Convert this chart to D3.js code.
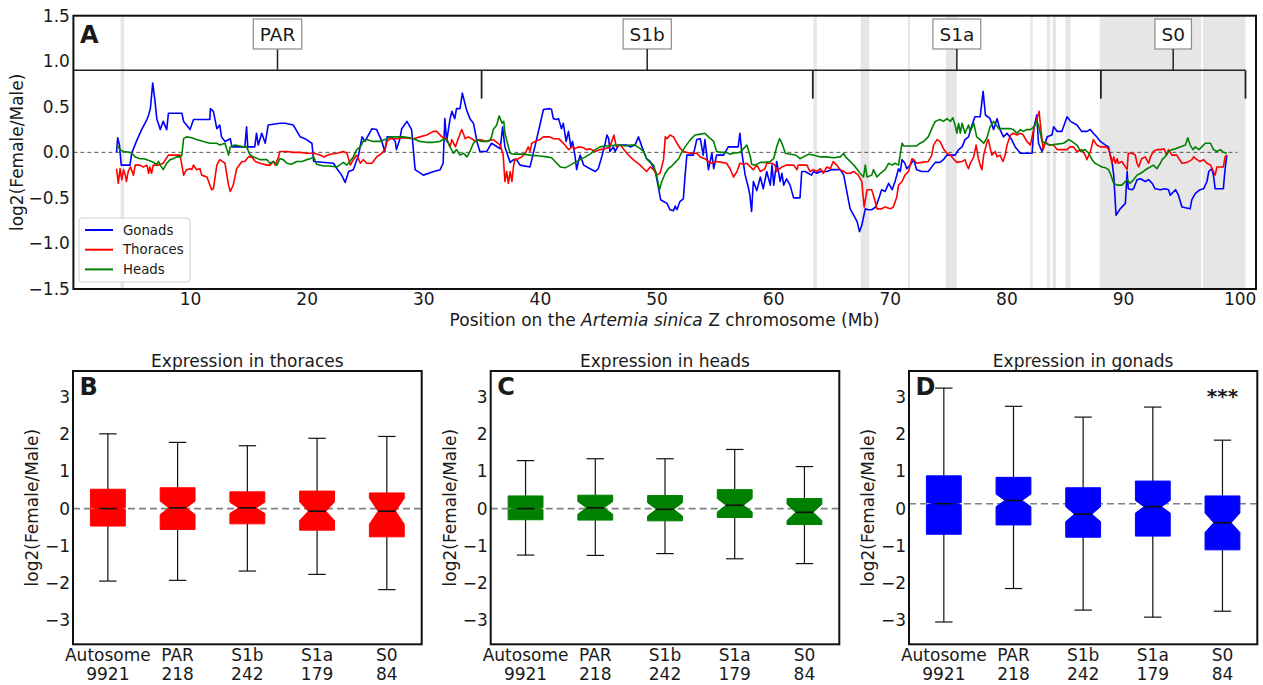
<!DOCTYPE html>
<html>
<head>
<meta charset="utf-8">
<script src="https://cdn.jsdelivr.net/npm/d3@7"></script>
<style>
  body { margin: 0; background: #fff; }
  text { font-family: "DejaVu Sans", sans-serif; fill: #1a1a1a; }
</style>
</head>
<body>
<svg id="chart" width="1263" height="685"></svg>
<script>
// ---------- Panel A data: sliding-window log2(F/M) along the Z chromosome ----------
// [position (Mb), log2 ratio]
const gonads = [
  [3.7,0.0],[3.8,0.16],[3.95,0.08],[4.1,-0.14],[4.85,-0.14],[5.0,-0.01],[5.4,0.12],[5.85,0.25],[6.3,0.36],[6.45,0.41],
  [6.6,0.48],[6.8,0.76],[7.0,0.56],[7.15,0.37],[7.45,0.25],[7.7,0.34],[8.0,0.25],[8.15,0.43],[9.3,0.43],[9.45,0.34],
  [9.7,0.3],[10.0,0.25],[10.3,0.36],[11.7,0.36],[11.75,0.48],[12.0,0.45],[12.3,0.26],[12.55,0.3],[12.7,0.17],[13.0,0.12],
  [13.45,0.15],[13.6,0.06],[14.7,0.06],[14.85,0.28],[14.95,0.06],[15.55,0.06],[15.7,0.21],[15.85,0.08],[16.15,0.21],[16.45,0.1],
  [16.7,0.3],[17.7,0.32],[18.15,0.32],[18.85,0.3],[19.45,0.17],[19.85,0.15],[20.45,0.1],[20.6,-0.1],[22.3,-0.12],[22.6,-0.18],
  [23.0,-0.25],[23.3,-0.33],[23.6,-0.21],[24.0,-0.19],[24.45,-0.03],[24.75,0.17],[25.0,0.12],[25.6,0.26],[26.0,0.25],[26.45,0.12],
  [26.7,0.01],[26.9,0.17],[27.3,0.17],[27.6,0.12],[27.7,0.03],[28.0,0.15],[28.15,0.26],[28.6,0.34],[29.0,0.25],[29.3,-0.19],
  [30.0,-0.25],[30.9,-0.21],[31.45,-0.19],[31.7,-0.12],[31.85,0.37],[32.0,0.12],[32.3,0.37],[32.45,0.45],[32.7,0.37],[32.85,0.48],
  [33.15,0.48],[33.35,0.65],[33.7,0.47],[34.0,0.37],[34.3,0.32],[34.6,0.12],[34.85,0.01],[35.45,0.01],[35.85,0.1],[36.6,0.04],
  [36.8,0.28],[37.0,0.06],[37.45,-0.11],[37.75,-0.08],[38.0,-0.08],[38.3,-0.14],[39.15,-0.16],[39.6,0.08],[40.0,0.3],[40.3,0.47],
  [40.85,0.48],[41.0,0.47],[41.15,0.37],[41.45,0.36],[41.6,0.37],[41.85,0.26],[42.0,0.32],[42.25,0.12],[42.45,0.23],[42.65,0.06],
  [42.8,0.12],[43.0,-0.03],[43.15,-0.19],[43.3,-0.1],[43.45,-0.03],[43.75,-0.14],[44.3,-0.18],[44.75,-0.21],[45.0,-0.18],[45.3,-0.05],
  [45.6,0.1],[45.75,0.19],[45.9,0.15],[46.0,0.01],[46.3,0.06],[46.45,0.01],[46.75,0.08],[47.45,0.08],[47.75,0.06],[48.15,0.08],
  [48.45,0.17],[48.75,0.06],[49.15,-0.07],[49.45,-0.1],[49.9,-0.21],[50.15,-0.38],[50.35,-0.52],[50.6,-0.54],[50.9,-0.56],[51.15,-0.63],
  [51.45,-0.64],[51.6,-0.59],[51.75,-0.63],[52.0,-0.54],[52.3,-0.51],[52.45,-0.25],[52.6,-0.03],[53.15,-0.03],[53.45,0.14],[53.75,0.15],
  [54.0,-0.03],[54.15,0.14],[54.45,-0.19],[54.75,-0.01],[54.9,-0.18],[55.15,-0.03],[55.75,-0.03],[56.15,0.06],[57.0,0.06],[57.15,0.21],
  [57.3,0.01],[57.6,-0.25],[57.9,-0.4],[58.0,-0.47],[58.15,-0.65],[58.3,-0.32],[58.6,-0.42],[58.9,-0.27],[59.15,-0.4],[59.45,-0.21],
  [59.75,-0.36],[59.9,-0.14],[60.05,-0.36],[60.3,-0.1],[60.6,-0.32],[60.75,-0.23],[60.9,-0.36],[61.15,-0.29],[61.45,-0.36],[61.75,-0.5],
  [62.3,-0.5],[62.45,-0.21],[62.75,-0.21],[63.0,-0.23],[63.3,-0.25],[63.45,-0.21],[63.75,-0.23],[64.05,-0.21],[64.6,-0.21],[65.0,-0.19],
  [65.75,-0.19],[66.05,-0.25],[66.3,-0.42],[66.6,-0.62],[66.9,-0.69],[67.2,-0.76],[67.4,-0.87],[67.6,-0.8],[67.9,-0.62],[68.15,-0.63],
  [68.45,-0.63],[68.8,-0.6],[69.05,-0.51],[69.3,-0.41],[69.6,-0.43],[69.9,-0.34],[70.2,-0.41],[70.45,-0.32],[70.75,-0.18],[70.9,-0.21],
  [71.05,-0.08],[71.3,-0.12],[71.45,-0.18],[71.75,-0.14],[72.05,-0.08],[72.3,-0.19],[72.75,-0.21],[73.3,-0.21],[73.9,-0.11],[74.3,-0.11],
  [74.6,-0.08],[74.9,-0.03],[75.6,-0.03],[75.9,0.03],[76.2,0.06],[76.45,0.14],[76.75,0.17],[77.05,0.3],[77.3,0.39],[77.75,0.39],
  [78.0,0.67],[78.2,0.41],[78.6,0.37],[78.9,0.25],[79.2,0.37],[79.45,0.25],[79.75,0.17],[80.05,0.21],[80.45,0.14],[80.75,0.06],
  [81.2,-0.01],[81.75,-0.01],[82.2,-0.01],[82.35,0.26],[82.6,0.41],[82.75,0.1],[83.05,0.01],[83.5,0.17],[83.9,0.19],[84.05,0.28],
  [84.35,0.23],[84.75,0.23],[85.2,0.39],[85.5,0.34],[86.05,0.3],[86.45,0.23],[86.9,0.23],[87.2,0.25],[87.45,0.21],[87.75,0.17],
  [88.05,0.12],[88.5,0.08],[88.75,0.06],[88.9,-0.03],[89.05,-0.1],[89.2,-0.25],[89.4,-0.69],[89.75,-0.62],[90.2,-0.56],[90.35,-0.21],
  [90.45,-0.4],[90.75,-0.41],[90.9,-0.4],[91.2,-0.3],[91.5,-0.29],[91.9,-0.32],[92.2,-0.3],[92.5,-0.34],[92.75,-0.4],[93.2,-0.41],
  [93.6,-0.4],[93.9,-0.41],[94.05,-0.47],[94.5,-0.41],[94.75,-0.47],[95.05,-0.6],[95.75,-0.62],[95.9,-0.52],[96.2,-0.45],[96.6,-0.41],
  [96.9,-0.4],[97.2,-0.32],[97.35,-0.21],[97.6,-0.18],[97.75,-0.25],[97.9,-0.4],[98.6,-0.4],[98.75,-0.18],[98.9,-0.03]
];

const thoraces = [
  [3.7,-0.18],[3.85,-0.34],[4.0,-0.18],[4.15,-0.3],[4.3,-0.19],[4.45,-0.25],[4.55,-0.32],[4.7,-0.21],[4.9,-0.16],[5.15,-0.25],
  [5.3,-0.14],[5.7,-0.14],[6.0,-0.16],[6.3,-0.14],[6.45,-0.23],[6.55,-0.16],[6.7,-0.23],[6.85,-0.14],[7.3,-0.14],[7.7,-0.12],
  [8.15,-0.03],[9.15,-0.03],[9.45,-0.25],[9.7,-0.19],[10.0,-0.18],[10.15,-0.19],[10.3,-0.14],[10.55,-0.19],[10.85,-0.18],[11.0,-0.25],
  [11.45,-0.27],[11.85,-0.41],[12.0,-0.4],[12.3,-0.14],[12.55,-0.08],[13.0,-0.12],[13.3,-0.36],[13.45,-0.43],[13.7,-0.36],[14.0,-0.18],
  [14.45,-0.1],[14.7,-0.1],[15.0,-0.05],[15.3,-0.05],[15.6,-0.1],[16.0,-0.12],[16.6,-0.14],[16.85,-0.14],[17.15,-0.1],[17.3,-0.14],
  [17.6,-0.05],[17.7,0.01],[18.3,0.01],[18.85,0.0],[19.45,0.0],[20.0,-0.01],[20.6,-0.01],[21.15,-0.03],[21.45,-0.05],[22.0,-0.02],
  [22.6,-0.01],[23.15,0.01],[23.45,-0.01],[23.75,-0.14],[24.0,-0.08],[24.3,-0.03],[24.6,-0.12],[24.85,-0.08],[25.15,-0.12],[25.6,-0.12],
  [26.0,-0.05],[26.45,-0.01],[26.7,0.03],[26.9,0.12],[27.15,0.15],[27.75,0.15],[28.3,0.16],[29.15,0.15],[29.7,0.17],[30.3,0.19],
  [30.85,0.23],[31.15,0.23],[31.6,0.17],[32.0,0.15],[32.3,0.06],[32.45,0.14],[32.75,0.06],[33.0,0.15],[33.3,0.25],[33.6,0.15],
  [33.85,0.17],[34.15,0.15],[34.45,0.12],[34.85,0.14],[35.45,0.12],[36.0,0.14],[36.6,0.08],[36.85,-0.03],[37.0,-0.32],[37.15,-0.21],
  [37.3,-0.34],[37.45,-0.21],[37.6,-0.32],[37.75,-0.14],[37.85,-0.08],[38.15,-0.07],[38.45,-0.05],[38.75,-0.01],[39.0,0.06],[39.15,0.01],
  [39.3,0.1],[39.6,0.12],[40.0,0.14],[40.3,0.17],[40.85,0.17],[41.15,0.15],[41.6,0.15],[41.85,0.12],[42.15,0.08],[42.45,0.03],
  [42.75,0.06],[43.0,0.04],[43.3,0.06],[43.75,0.05],[44.0,0.03],[44.3,0.04],[44.75,0.01],[45.15,0.03],[45.6,0.04],[46.0,0.06],
  [46.35,0.19],[46.55,0.06],[46.9,0.08],[47.15,0.04],[47.45,-0.01],[47.75,-0.05],[48.0,-0.08],[48.3,-0.11],[48.6,-0.14],[48.9,-0.18],
  [49.15,-0.21],[49.45,-0.16],[49.75,-0.19],[50.0,-0.25],[50.3,-0.23],[50.6,-0.08],[50.75,0.17],[50.9,0.15],[51.15,0.19],[51.45,0.17],
  [51.75,0.1],[52.05,0.04],[52.3,0.01],[52.9,-0.01],[53.45,-0.01],[53.75,-0.05],[54.15,-0.07],[54.45,-0.1],[54.75,-0.12],[55.15,-0.1],
  [55.6,-0.11],[56.0,-0.12],[56.3,-0.18],[56.6,-0.27],[56.9,-0.21],[57.15,-0.12],[57.45,-0.13],[57.75,-0.12],[58.05,-0.16],[58.3,-0.19],
  [58.6,-0.14],[58.9,-0.21],[59.3,-0.18],[59.45,-0.12],[59.9,-0.12],[60.15,-0.14],[60.3,-0.21],[60.75,-0.16],[61.15,-0.14],[61.75,-0.14],
  [62.05,-0.19],[62.15,-0.14],[62.9,-0.14],[63.15,-0.21],[63.45,-0.19],[63.75,-0.21],[64.05,-0.18],[64.3,-0.23],[64.6,-0.16],[64.9,-0.18],
  [65.15,-0.1],[65.45,-0.14],[65.75,-0.19],[66.05,-0.21],[66.3,-0.23],[66.6,-0.23],[66.9,-0.21],[67.3,-0.25],[67.6,-0.32],[67.8,-0.6],
  [68.05,-0.41],[68.45,-0.41],[68.75,-0.54],[68.9,-0.62],[69.3,-0.62],[69.6,-0.6],[70.05,-0.62],[70.3,-0.6],[70.6,-0.49],[70.75,-0.36],
  [71.05,-0.32],[71.3,-0.25],[71.6,-0.21],[71.75,-0.14],[71.9,-0.07],[72.05,-0.08],[72.3,-0.12],[72.75,-0.11],[73.3,-0.1],[73.6,-0.03],
  [73.75,0.08],[74.05,0.14],[74.3,0.12],[74.6,0.04],[74.9,-0.01],[75.2,-0.03],[75.45,-0.07],[75.75,-0.11],[76.2,-0.1],[76.45,-0.08],
  [76.6,-0.14],[76.75,-0.18],[76.9,-0.12],[77.2,-0.05],[77.4,0.08],[77.6,-0.07],[77.75,-0.14],[77.9,-0.19],[78.05,-0.03],[78.35,0.12],
  [78.45,0.14],[78.75,-0.03],[79.05,0.01],[79.2,-0.05],[79.45,-0.03],[79.7,-0.1],[79.9,-0.03],[80.05,0.08],[80.35,0.19],[80.6,0.21],
  [80.9,0.19],[81.2,0.21],[81.45,0.19],[81.75,0.12],[82.05,0.08],[82.35,0.26],[82.6,0.36],[82.8,0.45],[82.95,0.26],[83.15,0.03],
  [83.35,0.12],[83.6,0.08],[84.05,0.08],[84.35,0.03],[84.75,0.03],[85.2,0.03],[85.45,0.06],[85.75,0.06],[86.05,0.01],[86.45,0.03],
  [86.75,-0.03],[86.9,-0.08],[87.2,0.01],[87.45,0.14],[87.75,0.08],[88.05,0.06],[88.5,0.06],[88.75,0.04],[88.9,-0.03],[89.05,-0.12],
  [89.2,-0.05],[89.35,-0.12],[89.5,-0.07],[89.6,-0.12],[89.9,-0.1],[90.2,-0.16],[90.35,-0.19],[90.45,-0.01],[90.75,-0.01],[91.05,-0.03],
  [91.2,-0.12],[91.35,-0.16],[91.5,-0.1],[91.6,-0.07],[91.9,-0.05],[92.2,-0.12],[92.35,-0.05],[92.6,0.01],[92.9,0.03],[93.2,0.03],
  [93.5,0.04],[93.75,-0.03],[93.9,0.03],[94.2,-0.03],[94.6,-0.03],[95.05,-0.12],[95.5,-0.11],[95.9,-0.08],[96.05,-0.05],[96.35,-0.08],
  [96.6,-0.1],[96.9,-0.08],[97.2,-0.12],[97.5,-0.14],[97.75,-0.21],[97.9,-0.25],[98.05,-0.16],[98.6,-0.16],[98.75,-0.05],[98.9,-0.03]
];

const heads = [
  [3.7,0.08],[3.85,0.06],[4.0,0.03],[4.3,0.01],[4.85,0.0],[5.0,-0.01],[5.3,-0.05],[5.7,-0.07],[6.0,-0.07],[6.3,-0.08],
  [6.7,-0.1],[7.0,-0.12],[7.15,-0.13],[7.3,-0.1],[7.45,-0.14],[7.7,-0.19],[8.0,-0.12],[8.3,-0.08],[8.55,-0.07],[8.85,-0.05],
  [9.15,-0.05],[9.3,-0.03],[9.45,0.15],[9.7,0.17],[10.15,0.16],[10.55,0.14],[11.15,0.12],[11.7,0.1],[12.3,0.1],[12.55,0.08],
  [13.0,0.1],[13.3,-0.03],[13.45,0.06],[13.85,0.08],[14.6,0.06],[14.85,0.06],[15.15,-0.03],[15.45,-0.05],[16.0,-0.08],[16.6,-0.08],
  [16.85,-0.12],[17.15,-0.1],[17.45,-0.14],[17.7,-0.07],[18.0,-0.08],[18.3,-0.12],[18.7,-0.13],[19.15,-0.1],[19.6,-0.1],[20.0,-0.08],
  [20.3,-0.07],[20.6,-0.05],[20.85,-0.13],[21.45,-0.15],[22.0,-0.15],[22.6,-0.16],[23.15,-0.11],[23.45,-0.14],[23.7,-0.1],[24.0,-0.05],
  [24.3,0.03],[24.6,0.06],[24.85,0.12],[25.15,0.14],[25.7,0.12],[26.3,0.12],[26.7,0.14],[27.15,0.17],[27.7,0.17],[28.3,0.17],
  [28.85,0.16],[29.3,0.14],[29.7,0.12],[30.3,0.11],[30.85,0.11],[31.45,0.12],[31.75,0.15],[32.0,0.14],[32.3,0.06],[32.6,-0.01],
  [32.85,0.03],[33.15,-0.03],[33.45,-0.01],[33.75,-0.05],[34.0,0.01],[34.3,0.1],[34.6,0.14],[35.0,0.12],[35.45,0.12],[35.75,0.14],
  [35.85,0.17],[36.0,0.25],[36.3,0.3],[36.5,0.4],[36.75,0.32],[36.9,0.34],[37.0,0.21],[37.3,0.06],[37.45,-0.01],[37.75,-0.02],
  [38.6,-0.02],[39.15,-0.03],[40.0,-0.04],[40.6,-0.05],[41.0,-0.06],[41.3,-0.1],[41.75,-0.16],[42.15,-0.17],[42.6,-0.14],[43.0,-0.11],
  [43.45,-0.08],[43.9,-0.05],[44.3,-0.02],[44.75,0.03],[45.15,0.06],[45.6,0.07],[46.0,0.07],[46.45,0.08],[46.9,0.08],[47.3,0.07],
  [47.75,0.08],[48.15,0.08],[48.6,0.04],[48.9,0.01],[49.15,-0.07],[49.45,-0.11],[49.75,-0.14],[50.0,-0.25],[50.25,-0.41],[50.45,-0.32],
  [50.75,-0.23],[51.0,-0.18],[51.3,-0.15],[51.6,-0.11],[51.9,-0.07],[52.15,0.0],[52.45,0.06],[52.9,0.14],[53.3,0.19],[53.75,0.2],
  [54.15,0.21],[54.45,0.17],[54.9,0.12],[55.15,0.01],[55.45,0.0],[56.0,0.0],[56.3,-0.02],[56.6,-0.01],[57.15,0.0],[57.6,0.06],
  [57.75,0.08],[58.05,-0.05],[58.15,-0.13],[58.45,-0.14],[58.9,-0.11],[59.3,-0.11],[59.75,-0.1],[60.05,-0.07],[60.3,0.06],[60.55,0.15],
  [60.75,0.1],[61.05,-0.01],[61.45,-0.02],[61.9,-0.03],[62.15,-0.05],[62.3,-0.07],[62.6,-0.05],[63.05,-0.02],[63.45,-0.03],[64.05,-0.05],
  [64.6,-0.05],[65.15,-0.06],[65.75,-0.05],[66.05,-0.01],[66.2,-0.05],[66.45,-0.08],[66.75,-0.12],[67.05,-0.16],[67.45,-0.23],[67.75,-0.27],
  [67.9,-0.14],[68.05,-0.27],[68.45,-0.25],[68.6,-0.19],[68.9,-0.27],[69.2,-0.23],[69.6,-0.19],[69.9,-0.12],[70.2,-0.14],[70.45,-0.12],
  [70.75,-0.14],[71.05,0.1],[71.2,0.07],[71.75,0.07],[72.3,0.07],[72.6,0.1],[72.9,0.12],[73.3,0.17],[73.6,0.26],[73.9,0.34],
  [74.3,0.36],[74.6,0.34],[74.9,0.37],[75.2,0.34],[75.4,0.38],[75.6,0.3],[75.75,0.21],[75.9,0.32],[76.05,0.21],[76.2,0.32],
  [76.45,0.21],[76.75,0.3],[76.9,0.23],[77.2,0.32],[77.45,0.17],[77.75,0.14],[78.05,0.1],[78.3,0.15],[78.6,0.28],[78.9,0.34],
  [79.35,0.26],[79.75,0.26],[80.35,0.26],[80.6,0.25],[80.9,0.21],[81.2,0.25],[81.45,0.23],[81.75,0.25],[82.05,0.25],[82.35,0.28],
  [82.6,0.34],[82.75,0.3],[83.05,0.12],[83.35,0.1],[83.75,0.08],[84.35,0.09],[84.9,0.1],[85.35,0.14],[85.6,0.12],[86.05,0.08],
  [86.35,0.01],[86.75,0.03],[87.05,-0.01],[87.35,-0.08],[87.6,-0.12],[87.9,-0.14],[88.2,-0.16],[88.5,-0.17],[88.75,-0.19],[88.9,-0.23],
  [89.2,-0.34],[89.5,-0.36],[89.9,-0.36],[90.2,-0.32],[90.35,-0.3],[90.6,-0.34],[90.9,-0.3],[91.2,-0.25],[91.5,-0.23],[91.75,-0.21],
  [92.05,-0.18],[92.35,-0.16],[92.6,-0.14],[92.9,-0.18],[93.2,-0.12],[93.35,-0.08],[93.6,-0.05],[93.9,0.01],[94.2,0.03],[94.5,0.04],
  [94.9,0.06],[95.35,0.08],[95.55,0.16],[95.75,0.08],[96.0,0.03],[96.2,0.06],[96.5,0.03],[96.75,0.06],[97.05,0.1],[97.5,0.1],
  [97.75,0.03],[98.05,0.01],[98.35,0.03],[98.6,0.0],[98.9,-0.01]
];

// evolutionary strata along the Z: boundaries (Mb) and names
const strataEdges = [0, 35.0, 63.4, 88.1, 100.5];
const strataNames = ['PAR', 'S1b', 'S1a', 'S0'];
// grey shaded intervals (Mb)
const shadedBands = [
  [4.05, 4.35], [63.45, 63.75], [67.5, 68.25], [71.55, 71.75], [74.8, 75.75],
  [82.05, 82.25], [83.45, 83.75], [83.95, 84.25], [85.05, 85.5], [88.0, 96.7], [96.85, 100.5]
];
const xTicksA = [10, 20, 30, 40, 50, 60, 70, 80, 90, 100];
const yTicksA = [-1.5, -1.0, -0.5, 0.0, 0.5, 1.0, 1.5];

// ---------- Panels B-D data: notched box plots ----------
const regions = ['Autosome', 'PAR', 'S1b', 'S1a', 'S0'];
const geneCounts = [9921, 218, 242, 179, 84];
const yTicksBox = [-3, -2, -1, 0, 1, 2, 3];
// lo/hi = whisker ends, q1/q3 = box, med = median, notch = half-height of notch
const thoraxStats = [
  { lo: -1.95, q1: -0.47, med: 0.0, q3: 0.52, hi: 2.01, notch: 0.02 },
  { lo: -1.93, q1: -0.56, med: 0.02, q3: 0.56, hi: 1.78, notch: 0.18 },
  { lo: -1.68, q1: -0.41, med: 0.02, q3: 0.45, hi: 1.69, notch: 0.15 },
  { lo: -1.77, q1: -0.58, med: -0.07, q3: 0.47, hi: 1.89, notch: 0.25 },
  { lo: -2.18, q1: -0.76, med: -0.07, q3: 0.42, hi: 1.94, notch: 0.35 }
];
const headStats = [
  { lo: -1.25, q1: -0.3, med: 0.0, q3: 0.34, hi: 1.29, notch: 0.02 },
  { lo: -1.26, q1: -0.31, med: 0.02, q3: 0.36, hi: 1.34, notch: 0.17 },
  { lo: -1.21, q1: -0.33, med: -0.02, q3: 0.35, hi: 1.34, notch: 0.18 },
  { lo: -1.35, q1: -0.24, med: 0.09, q3: 0.51, hi: 1.59, notch: 0.18 },
  { lo: -1.48, q1: -0.43, med: -0.1, q3: 0.27, hi: 1.13, notch: 0.22 }
];
const gonadStats = [
  { lo: -3.05, q1: -0.69, med: 0.13, q3: 0.88, hi: 3.24, notch: 0.03 },
  { lo: -2.15, q1: -0.44, med: 0.22, q3: 0.84, hi: 2.75, notch: 0.17 },
  { lo: -2.73, q1: -0.77, med: -0.15, q3: 0.56, hi: 2.46, notch: 0.2 },
  { lo: -2.92, q1: -0.74, med: 0.05, q3: 0.74, hi: 2.73, notch: 0.17 },
  { lo: -2.76, q1: -1.11, med: -0.38, q3: 0.34, hi: 1.84, notch: 0.26 }
];

const svg = d3.select('#chart');

// ================= Panel A =================
const A = { left: 73.4, right: 1256, top: 15.7, bottom: 289 };
const x = d3.scaleLinear().domain([0, 101.4]).range([A.left, A.right]);
const y = d3.scaleLinear().domain([-1.5, 1.5]).range([A.bottom, A.top]);
const gA = svg.append('g');

// shaded bands
gA.selectAll('rect.band')
  .data(shadedBands)
  .enter()
  .append('rect')
  .attr('class', 'band')
  .attr('x', d => x(d[0]))
  .attr('width', d => x(d[1]) - x(d[0]))
  .attr('y', A.top)
  .attr('height', A.bottom - A.top)
  .attr('fill', '#e6e6e6');

// zero reference
gA.append('line')
  .attr('x1', x(0)).attr('x2', x(99.8))
  .attr('y1', y(0)).attr('y2', y(0))
  .attr('stroke', '#555').attr('stroke-width', 1)
  .attr('stroke-dasharray', '4,3');

// the three tissue lines
const lineGen = d3.line().x(d => x(d[0])).y(d => y(d[1]));
const seriesA = [
  { name: 'Gonads', data: gonads, color: '#0000ff' },
  { name: 'Thoraces', data: thoraces, color: '#ff0000' },
  { name: 'Heads', data: heads, color: '#008000' }
];
seriesA.forEach(function(s) {
  gA.append('path')
    .datum(s.data)
    .attr('fill', 'none')
    .attr('stroke', s.color)
    .attr('stroke-width', 1.6)
    .attr('stroke-linejoin', 'round')
    .attr('d', lineGen);
});

// strata bracket
const treeY = 0.9, dropY = 0.59;
gA.append('line')
  .attr('x1', x(strataEdges[0])).attr('x2', x(strataEdges[strataEdges.length - 1]))
  .attr('y1', y(treeY)).attr('y2', y(treeY))
  .attr('stroke', '#222').attr('stroke-width', 1.5);
strataEdges.slice(1).forEach(function(e) {
  gA.append('line')
    .attr('x1', x(e)).attr('x2', x(e))
    .attr('y1', y(treeY)).attr('y2', y(dropY))
    .attr('stroke', '#222').attr('stroke-width', 1.8);
});
strataNames.forEach(function(name, i) {
  const mid = (strataEdges[i] + strataEdges[i + 1]) / 2;
  const boxTop = 19, boxBottom = 49;
  gA.append('line')
    .attr('x1', x(mid)).attr('x2', x(mid))
    .attr('y1', y(treeY)).attr('y2', boxBottom)
    .attr('stroke', '#222').attr('stroke-width', 1.5);
  const label = gA.append('text')
    .attr('x', x(mid))
    .attr('y', 41)
    .attr('text-anchor', 'middle')
    .attr('font-size', 18.5)
    .text(name);
  const w = label.node().getComputedTextLength();
  gA.insert('rect', 'text')
    .attr('x', x(mid) - w / 2 - 6.5)
    .attr('y', boxTop)
    .attr('width', w + 13)
    .attr('height', boxBottom - boxTop)
    .attr('fill', '#fff')
    .attr('stroke', '#8c8c8c')
    .attr('stroke-width', 1.2);
});

// frame
gA.append('rect')
  .attr('x', A.left).attr('y', A.top)
  .attr('width', A.right - A.left).attr('height', A.bottom - A.top)
  .attr('fill', 'none').attr('stroke', '#111').attr('stroke-width', 2);

// axes
const yAxisA = d3.axisLeft(y).tickValues(yTicksA).tickSize(0).tickPadding(3.5).tickFormat(d3.format('.1f'));
gA.append('g')
  .attr('transform', `translate(${A.left},0)`)
  .call(yAxisA)
  .call(g => g.select('.domain').remove())
  .attr('font-family', '"DejaVu Sans", sans-serif')
  .attr('font-size', 17);

const xAxisA = d3.axisBottom(x).tickValues(xTicksA).tickSize(0).tickPadding(3.5).tickFormat(d3.format('d'));
gA.append('g')
  .attr('transform', `translate(0,${A.bottom})`)
  .call(xAxisA)
  .call(g => g.select('.domain').remove())
  .attr('font-family', '"DejaVu Sans", sans-serif')
  .attr('font-size', 17);

// axis labels
const xLab = gA.append('text')
  .attr('x', (A.left + A.right) / 2)
  .attr('y', 326)
  .attr('text-anchor', 'middle')
  .attr('font-size', 17);
xLab.append('tspan').text('Position on the ');
xLab.append('tspan').attr('font-style', 'italic').text('Artemia sinica');
xLab.append('tspan').text(' Z chromosome (Mb)');

gA.append('text')
  .attr('transform', `translate(23,${(A.top + A.bottom) / 2}) rotate(-90)`)
  .attr('text-anchor', 'middle')
  .attr('font-size', 17)
  .text('log2(Female/Male)');

gA.append('text')
  .attr('x', 80).attr('y', 43)
  .attr('font-size', 24).attr('font-weight', 'bold')
  .text('A');

// legend
const leg = gA.append('g');
leg.append('rect')
  .attr('x', 79).attr('y', 218).attr('width', 111).attr('height', 64)
  .attr('rx', 3)
  .attr('fill', '#fff').attr('fill-opacity', 0.8)
  .attr('stroke', '#d0d0d0').attr('stroke-width', 1);
seriesA.forEach(function(s, i) {
  const ly = 230 + i * 19.7;
  leg.append('line')
    .attr('x1', 85).attr('x2', 113)
    .attr('y1', ly).attr('y2', ly)
    .attr('stroke', s.color).attr('stroke-width', 2);
  leg.append('text')
    .attr('x', 123).attr('y', ly + 4.7)
    .attr('font-size', 13.3)
    .attr('fill', '#333')
    .text(s.name);
});

// ================= Panels B-D =================
const BOX = { top: 371, bottom: 644.3 };
const yBox = d3.scaleLinear().domain([-3.65, 3.7]).range([BOX.bottom, BOX.top]);

const boxPanels = [
  { left: 73, right: 421.7, stats: thoraxStats, color: '#ff0000', title: 'Expression in thoraces', letter: 'B', stars: '' },
  { left: 490.7, right: 839.3, stats: headStats, color: '#008000', title: 'Expression in heads', letter: 'C', stars: '' },
  { left: 909, right: 1257.3, stats: gonadStats, color: '#0000ff', title: 'Expression in gonads', letter: 'D', stars: '***' }
];

boxPanels.forEach(function(p) {
  const g = svg.append('g');
  const bx = d3.scaleLinear().domain([0.5, 5.5]).range([p.left, p.right]);
  const hw = (bx(1.25) - bx(1)); // half box width (box width 0.5)

  // reference line at autosome median
  g.append('line')
    .attr('x1', p.left).attr('x2', p.right)
    .attr('y1', yBox(p.stats[0].med)).attr('y2', yBox(p.stats[0].med))
    .attr('stroke', '#808080').attr('stroke-width', 1.6)
    .attr('stroke-dasharray', '7,4');

  p.stats.forEach(function(s, i) {
    const cx = bx(i + 1);
    // whiskers
    g.append('line')
      .attr('x1', cx).attr('x2', cx)
      .attr('y1', yBox(s.q3)).attr('y2', yBox(s.hi))
      .attr('stroke', '#111').attr('stroke-width', 1.2);
    g.append('line')
      .attr('x1', cx).attr('x2', cx)
      .attr('y1', yBox(s.q1)).attr('y2', yBox(s.lo))
      .attr('stroke', '#111').attr('stroke-width', 1.2);
    [s.hi, s.lo].forEach(function(v) {
      g.append('line')
        .attr('x1', cx - hw / 2).attr('x2', cx + hw / 2)
        .attr('y1', yBox(v)).attr('y2', yBox(v))
        .attr('stroke', '#111').attr('stroke-width', 1.2);
    });
    // notched box
    const x0 = cx - hw, x1 = cx + hw, xi0 = cx - hw / 2, xi1 = cx + hw / 2;
    const nLo = Math.max(s.med - s.notch, s.q1), nHi = Math.min(s.med + s.notch, s.q3);
    const pts = [
      [x0, yBox(s.q1)], [x1, yBox(s.q1)], [x1, yBox(nLo)], [xi1, yBox(s.med)], [x1, yBox(nHi)],
      [x1, yBox(s.q3)], [x0, yBox(s.q3)], [x0, yBox(nHi)], [xi0, yBox(s.med)], [x0, yBox(nLo)]
    ];
    g.append('path')
      .attr('d', 'M' + pts.map(q => q.join(',')).join('L') + 'Z')
      .attr('fill', p.color)
      .attr('stroke', p.color)
      .attr('stroke-width', 1);
    // median
    g.append('line')
      .attr('x1', xi0).attr('x2', xi1)
      .attr('y1', yBox(s.med)).attr('y2', yBox(s.med))
      .attr('stroke', '#111').attr('stroke-width', 1.6);
    // category labels
    g.append('text')
      .attr('x', cx).attr('y', 661)
      .attr('text-anchor', 'middle').attr('font-size', 17)
      .text(regions[i]);
    g.append('text')
      .attr('x', cx).attr('y', 680)
      .attr('text-anchor', 'middle').attr('font-size', 17)
      .text(geneCounts[i]);
  });

  // frame
  g.append('rect')
    .attr('x', p.left).attr('y', BOX.top)
    .attr('width', p.right - p.left).attr('height', BOX.bottom - BOX.top)
    .attr('fill', 'none').attr('stroke', '#111').attr('stroke-width', 2);

  // y axis
  const yAxis = d3.axisLeft(yBox).tickValues(yTicksBox).tickSize(0).tickPadding(3).tickFormat(d3.format('d'));
  g.append('g')
    .attr('transform', `translate(${p.left},0)`)
    .call(yAxis)
    .call(a => a.select('.domain').remove())
    .attr('font-family', '"DejaVu Sans", sans-serif')
    .attr('font-size', 17);

  g.append('text')
    .attr('transform', `translate(${p.left - 35},${(BOX.top + BOX.bottom) / 2}) rotate(-90)`)
    .attr('text-anchor', 'middle')
    .attr('font-size', 17)
    .text('log2(Female/Male)');

  g.append('text')
    .attr('x', (p.left + p.right) / 2).attr('y', 367)
    .attr('text-anchor', 'middle')
    .attr('font-size', 17)
    .text(p.title);

  g.append('text')
    .attr('x', p.left + 6.5).attr('y', 395)
    .attr('font-size', 24).attr('font-weight', 'bold')
    .text(p.letter);

  if (p.stars) {
    g.append('text')
      .attr('x', bx(5)).attr('y', yBox(2.85))
      .attr('text-anchor', 'middle')
      .attr('font-size', 20).attr('font-weight', 'bold')
      .text(p.stars);
  }
});
</script>
</body>
</html>
